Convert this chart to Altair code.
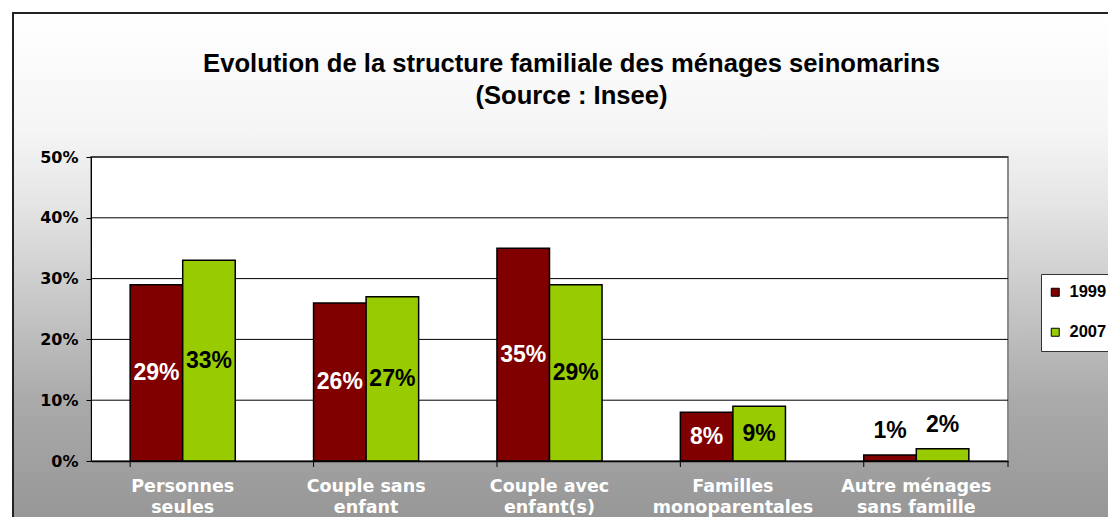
import altair as alt
import pandas as pd

categories = [
    "Personnes\nseules",
    "Couple sans\nenfant",
    "Couple avec\nenfant(s)",
    "Familles\nmonoparentales",
    "Autre ménages\nsans famille",
]
years = ["1999", "2007"]
values_1999 = [0.29, 0.26, 0.35, 0.08, 0.01]
values_2007 = [0.33, 0.27, 0.29, 0.09, 0.02]
y_ticks = [0.0, 0.1, 0.2, 0.3, 0.4, 0.5]
title_lines = ["Evolution de la structure familiale des ménages seinomarins", "(Source : Insee)"]
colors = ["#800000", "#99CC00"]

rows = []
for c, a, b in zip(categories, values_1999, values_2007):
    rows.append({"cat": c, "year": years[0], "v": a})
    rows.append({"cat": c, "year": years[1], "v": b})
df = pd.DataFrame(rows)
grid_df = pd.DataFrame({"t": y_ticks[1:]})
cat_df = pd.DataFrame({"cat": categories})
title_df = pd.DataFrame({"title": ["\n".join(title_lines)]})
dummy = pd.DataFrame({"a": [0]})

W, H = 917, 304
FONT = "DejaVu Sans"
LFONT = "Liberation Sans"

xscale = alt.Scale(domain=categories, paddingInner=0.427, paddingOuter=0.2135)
yscale = alt.Scale(domain=[0, 0.5], nice=False)

x_enc = alt.X(
    "cat:N", sort=categories, scale=xscale, title=None,
    axis=alt.Axis(
        labelExpr="split(datum.label, '\\n')", labelAngle=0, ticks=False,
        labelFont=FONT, labelFontSize=17.5, labelFontWeight="bold", labelColor="white",
        labelLineHeight=21, labelPadding=16, domainColor="black", domainWidth=1.5,
        labelBaseline="top", zindex=1,
    ),
)
y_enc = alt.Y(
    "v:Q", scale=yscale, title=None,
    axis=alt.Axis(
        values=y_ticks, format=".0%", grid=False, tickSize=5, tickColor="black",
        labelFont=FONT, labelFontSize=16, labelFontWeight="bold", labelColor="black",
        labelPadding=8, domainColor="black", domainWidth=1, zindex=1,
    ),
)

background = alt.Chart(dummy).mark_rect(
    fill={
        "gradient": "linear", "x1": 0, "y1": 0, "x2": 0, "y2": 1,
        "stops": [
            {"offset": 0, "color": "#ffffff"},
            {"offset": 0.226, "color": "#f5f5f5"},
            {"offset": 0.362, "color": "#e6e6e6"},
            {"offset": 0.555, "color": "#c8c8c8"},
            {"offset": 0.749, "color": "#aaaaaa"},
            {"offset": 1, "color": "#959595"},
        ],
    },
    stroke="#222222", strokeWidth=2,
).encode(x=alt.value(-78), x2=alt.value(1100), y=alt.value(-144), y2=alt.value(373))

title = alt.Chart(title_df).mark_text(
    font=LFONT, fontSize=25.6, fontWeight="bold", color="black",
    lineBreak="\n", lineHeight=32, align="center", baseline="alphabetic",
).encode(x=alt.value(480.5), y=alt.value(-85), text="title:N")

plot_bg = alt.Chart(dummy).mark_rect(fill="white", stroke="#8a8a8a", strokeWidth=2).encode(
    x=alt.value(0), x2=alt.value(W), y=alt.value(0), y2=alt.value(H)
)

grid = alt.Chart(grid_df).mark_rule(color="black", strokeWidth=1).encode(
    y=alt.Y("t:Q", scale=yscale), x=alt.value(0), x2=alt.value(W)
)

bars = alt.Chart(df).mark_bar(stroke="black", strokeWidth=1.5).encode(
    x=x_enc,
    xOffset=alt.XOffset("year:N", sort=years, scale=alt.Scale(paddingInner=0, paddingOuter=0)),
    y=y_enc,
    color=alt.Color(
        "year:N", sort=years, scale=alt.Scale(domain=years, range=colors),
        legend=alt.Legend(
            title=None, orient="none", legendX=950, legendY=117,
            fillColor="white", strokeColor="#333333", padding=10,
            symbolType="square", symbolSize=64, symbolStrokeColor="black",
            symbolStrokeWidth=1, symbolOpacity=1, symbolOffset=-4,
            labelFont=LFONT, labelFontSize=16.5, labelFontWeight="bold",
            labelColor="black", labelOffset=6, rowPadding=23,
        ),
    ),
)

def label_layer(filter_expr, color, mid):
    base = alt.Chart(df).transform_filter(filter_expr).transform_calculate(
        mid="datum.v / 2", lab="format(datum.v, '.0%')"
    )
    if mid:
        mk = base.mark_text(font=LFONT, fontSize=23, fontWeight="bold", color=color, baseline="middle")
        yy = alt.Y("mid:Q", scale=yscale)
    else:
        mk = base.mark_text(font=LFONT, fontSize=23, fontWeight="bold", color=color,
                            baseline="alphabetic", dy=-17)
        yy = alt.Y("v:Q", scale=yscale)
    return mk.encode(
        x=alt.X("cat:N", sort=categories, scale=xscale),
        xOffset=alt.XOffset("year:N", sort=years),
        y=yy,
        text="lab:N",
    )

lab_1999 = label_layer("datum.year == '1999' && datum.v >= 0.05", "white", True)
lab_2007 = label_layer("datum.year == '2007' && datum.v >= 0.05", "black", True)
lab_small = label_layer("datum.v < 0.05", "black", False)

ticks = alt.Chart(cat_df).mark_rule(color="black", strokeWidth=1).encode(
    x=alt.X("cat:N", sort=categories, scale=xscale, bandPosition=0),
    y=alt.value(H), y2=alt.value(H + 6),
)
last_tick = alt.Chart(dummy).mark_rule(color="black", strokeWidth=1).encode(
    x=alt.value(W), y=alt.value(H), y2=alt.value(H + 6)
)

chart = alt.layer(
    background, title, plot_bg, grid, bars, lab_1999, lab_2007, lab_small, ticks, last_tick
).properties(
    width=W, height=H,
    autosize=alt.AutoSizeParams(type="none"),
    padding={"left": 83, "top": 149, "right": 100, "bottom": 56},
).configure_view(stroke=None)

chart.save("out.html", embed_options={"renderer": "svg", "actions": False})
